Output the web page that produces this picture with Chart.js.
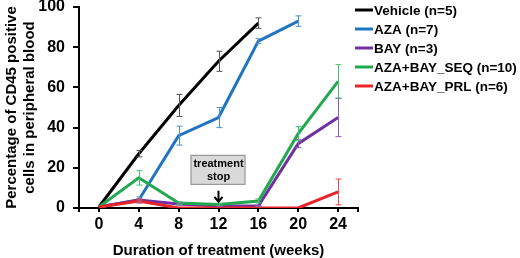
<!DOCTYPE html>
<html>
<head>
<meta charset="utf-8">
<script src="https://cdn.jsdelivr.net/npm/chart.js@4/dist/chart.umd.min.js"></script>
<style>
  html, body { margin: 0; padding: 0; background: #fff; }
  #wrap { width: 520px; height: 258px; }
</style>
</head>
<body>
<div id="wrap"><canvas id="c"></canvas></div>
<script>
const weeks = [0, 4, 8, 12, 16, 20, 24];
const seriesLabels = ["Vehicle (n=5)", "AZA (n=7)", "BAY (n=3)", "AZA+BAY_SEQ (n=10)", "AZA+BAY_PRL (n=6)"];
const vehicle = [0.5, 27, 51, 73, 92, null, null];
const vehicleErr = [0, 1.6, 5.5, 5, 2.6, null, null];
const aza = [0.5, 4, 36, 45, 83, 93, null];
const azaErr = [0, 1.5, 4.7, 5, 1.2, 2.6, null];
const bay = [0.5, 4, 2, 1, 1, 32, 45];
const bayErr = [0, 0.5, 0.5, 0.3, 0.3, 2, 9.5];
const seq = [0.5, 15, 2.5, 1.8, 3.5, 37, 63];
const seqErr = [0, 3.6, 0.6, 0.5, 1, 3.5, 8.3];
const prl = [0.5, 3.5, 0, 0, 0, 0, 8];
const prlErr = [0, 1, 0, 0, 0, 0, 6.4];
const yTicks = [0, 20, 40, 60, 80, 100];
const annotationText = ["treatment", "stop"];

const FONT = "'Liberation Sans', Arial, sans-serif";
const COLORS = ["#000000", "#1f75c0", "#7030a0", "#22a84e", "#e8232a"];
const ERR_COLORS = ["#555555", "#4a90cc", "#8a5cb8", "#45bd72", "#e84a4a"];

function points(values) {
    return weeks.map((w, i) => ({ x: w, y: values[i] })).filter((p) => p.y !== null);
}

const allValues = [vehicle, aza, bay, seq, prl];
const allErrors = [vehicleErr, azaErr, bayErr, seqErr, prlErr];
// later series sit on top, as in the original
const drawOrder = [4, 3, 2, 1, 0];

const errorBars = {
    id: "errorBars",
    afterDatasetsDraw(chart) {
        const ctx = chart.ctx;
        const xs = chart.scales.x;
        const ys = chart.scales.y;
        ctx.save();
        ctx.lineWidth = 1;
        chart.data.datasets.forEach((ds, d) => {
            ctx.strokeStyle = ERR_COLORS[d];
            ds.data.forEach((p) => {
                const e = allErrors[d][weeks.indexOf(p.x)];
                if (!e) return;
                const px = Math.round(xs.getPixelForValue(p.x)) + 0.5;
                const top = ys.getPixelForValue(p.y + e);
                const bot = ys.getPixelForValue(Math.max(p.y - e, 0));
                ctx.beginPath();
                ctx.moveTo(px, top); ctx.lineTo(px, bot);
                ctx.moveTo(px - 3, top); ctx.lineTo(px + 3, top);
                ctx.moveTo(px - 3, bot); ctx.lineTo(px + 3, bot);
                ctx.stroke();
            });
        });
        ctx.restore();
    },
};

const sideLegend = {
    id: "sideLegend",
    afterDraw(chart) {
        const ctx = chart.ctx;
        ctx.save();
        ctx.font = "bold 13.5px " + FONT;
        ctx.textBaseline = "middle";
        ctx.textAlign = "left";
        chart.data.datasets.forEach((ds, i) => {
            const y = 10 + i * 19;
            ctx.strokeStyle = ds.borderColor;
            ctx.lineWidth = 3;
            ctx.beginPath();
            ctx.moveTo(355, y); ctx.lineTo(373, y);
            ctx.stroke();
            ctx.fillStyle = "#000";
            ctx.fillText(ds.label, 374, y + 1);
        });
        ctx.restore();
    },
};

const stopNote = {
    id: "stopNote",
    afterDraw(chart) {
        const ctx = chart.ctx;
        const cx = chart.scales.x.getPixelForValue(12);
        const cy = chart.scales.y.getPixelForValue(19);
        ctx.save();
        ctx.fillStyle = "#d9d9d9";
        ctx.strokeStyle = "#8c8c8c";
        ctx.lineWidth = 1;
        ctx.fillRect(cx - 28, cy - 15, 55, 30);
        ctx.strokeRect(cx - 27.5, cy - 14.5, 54, 29);
        ctx.fillStyle = "#000";
        ctx.font = "bold 11px " + FONT;
        ctx.textAlign = "center";
        ctx.textBaseline = "middle";
        ctx.fillText(annotationText[0], cx, cy - 6);
        ctx.fillText(annotationText[1], cx, cy + 7);
        // arrow
        ctx.strokeStyle = "#000";
        ctx.lineWidth = 2;
        ctx.beginPath();
        ctx.moveTo(cx, cy + 21); ctx.lineTo(cx, cy + 31);
        ctx.moveTo(cx - 4, cy + 27); ctx.lineTo(cx, cy + 32); ctx.lineTo(cx + 4, cy + 27);
        ctx.stroke();
        ctx.restore();
    },
};

new Chart(document.getElementById("c"), {
    type: "line",
    data: {
        datasets: allValues.map((vals, i) => ({
            label: seriesLabels[i],
            data: points(vals),
            borderColor: COLORS[i],
            backgroundColor: COLORS[i],
            borderWidth: 3,
            pointRadius: 0,
            tension: 0,
            order: drawOrder[i],
        })),
    },
    options: {
        responsive: true,
        maintainAspectRatio: false,
        animation: false,
        layout: { padding: { top: 0, right: 162, bottom: 0, left: 0 } },
        scales: {
            x: {
                type: "linear",
                min: -2,
                max: 26,
                afterBuildTicks: (scale) => {
                    scale.ticks = [-2, ...weeks, 26].map((v) => ({ value: v }));
                },
                afterFit: (scale) => { scale.height = 50; },
                ticks: {
                    color: "#000",
                    padding: 5,
                    font: { family: FONT, size: 16, weight: "bold", lineHeight: 1 },
                    callback: (v) => (weeks.includes(v) ? v : ""),
                },
                grid: { drawOnChartArea: false, tickLength: 4, color: "#000", lineWidth: 2 },
                border: { color: "#000", width: 2 },
                title: {
                    display: true,
                    text: "Duration of treatment (weeks)",
                    color: "#000",
                    padding: { top: 0, bottom: 0 },
                    font: { family: FONT, size: 15, weight: "bold", lineHeight: 1 },
                },
            },
            y: {
                min: 0,
                max: 100,
                afterBuildTicks: (scale) => {
                    scale.ticks = yTicks.map((v) => ({ value: v }));
                },
                afterFit: (scale) => {
                    scale.width = 79;
                    scale.paddingTop = 7;
                    scale.paddingBottom = 0;
                },
                ticks: {
                    color: "#000",
                    padding: 8,
                    font: { family: FONT, size: 16, weight: "bold", lineHeight: 1 },
                },
                grid: { drawOnChartArea: false, tickLength: 6, color: "#000", lineWidth: 2 },
                border: { color: "#000", width: 2 },
                title: {
                    display: true,
                    text: ["Percentage of CD45 positive", "cells in peripheral blood"],
                    color: "#000",
                    padding: { top: 3, bottom: 1 },
                    font: { family: FONT, size: 15, weight: "bold", lineHeight: 1.2 },
                },
            },
        },
        plugins: {
            legend: { display: false },
            tooltip: { enabled: false },
        },
    },
    plugins: [errorBars, sideLegend, stopNote],
});
</script>
</body>
</html>
